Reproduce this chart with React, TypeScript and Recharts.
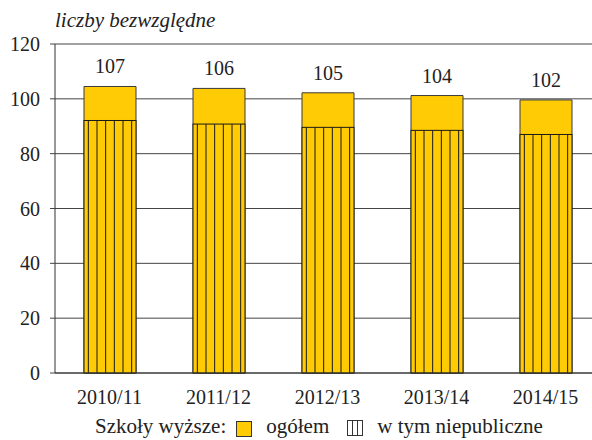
import { BarChart, Bar, XAxis, YAxis, CartesianGrid, LabelList } from 'recharts';

const years = ['2010/11', '2011/12', '2012/13', '2013/14', '2014/15'];
// bar heights as drawn in the source picture
const totalHeights = [104.5, 103.8, 102.2, 101.2, 99.6];
const privateHeights = [92.1, 90.8, 89.6, 88.5, 87.0];
// printed values above the bars
const totalLabels = ['107', '106', '105', '104', '102'];
const yTicks = [0, 20, 40, 60, 80, 100, 120];

const data = years.map((year, i) => ({
  year,
  total: totalHeights[i],
  priv: privateHeights[i],
  label: totalLabels[i],
}));

const YELLOW = '#FFCB05';
const FONT = 'Liberation Serif';

const HatchedBar = (props: any) => {
  const { x, y, width, height } = props;
  if (!height || height <= 0) return null;
  const lines = [];
  for (let i = 0; i < 6; i++) {
    const lx = x + (width * (i + 0.5)) / 6;
    lines.push(<line key={i} x1={lx} x2={lx} y1={y} y2={y + height} stroke="#1a1a1a" strokeWidth={1} />);
  }
  return (
    <g>
      <rect x={x} y={y} width={width} height={height} fill={YELLOW} stroke="#1a1a1a" strokeWidth={1} />
      {lines}
    </g>
  );
};

const ChartLegend = () => (
  <div style={{ position: 'absolute', left: 95, top: 416, display: 'flex', alignItems: 'center', fontFamily: FONT, fontSize: 21, color: '#222', lineHeight: '21px', whiteSpace: 'nowrap' }}>
    <span>Szkoły wyższe:</span>
    <svg width={16} height={16} style={{ marginLeft: 10, marginTop: 4 }}>
      <rect x={0.5} y={0.5} width={15} height={15} fill={YELLOW} stroke="#333" />
    </svg>
    <span style={{ marginLeft: 14 }}>ogółem</span>
    <svg width={16} height={16} style={{ marginLeft: 18, marginTop: 2 }}>
      <rect x={0.5} y={0.5} width={15} height={15} fill="#fff" stroke="#333" />
      <line x1={5.5} x2={5.5} y1={0.5} y2={15.5} stroke="#333" />
      <line x1={10.5} x2={10.5} y1={0.5} y2={15.5} stroke="#333" />
    </svg>
    <span style={{ marginLeft: 14 }}>w tym niepubliczne</span>
  </div>
);

export default function App() {
  return (
    <div style={{ position: 'absolute', left: 0, top: 0, width: 600, height: 440, background: '#fff' }}>
      <div style={{ position: 'absolute', left: 55, top: 10, fontFamily: FONT, fontStyle: 'italic', fontSize: 21, lineHeight: '21px', color: '#222' }}>
        liczby bezwzględne
      </div>
      <BarChart
        width={600}
        height={440}
        data={data}
        margin={{ top: 44, right: 0, bottom: 37, left: 0 }}
        barSize={52}
        barGap={-52}
      >
        <CartesianGrid vertical={false} stroke="#444" strokeWidth={1} />
        <XAxis
          dataKey="year"
          height={30}
          axisLine={{ stroke: '#333' }}
          tickLine={false}
          tickSize={0}
          tickMargin={17}
          tick={{ fontFamily: FONT, fontSize: 20, fill: '#222' }}
        />
        <YAxis
          width={55}
          domain={[0, 120]}
          ticks={yTicks}
          interval={0}
          axisLine={{ stroke: '#333' }}
          tickLine={{ stroke: '#444' }}
          tickSize={5}
          tickMargin={10}
          tick={{ fontFamily: FONT, fontSize: 20, fill: '#222' }}
        />
        <Bar dataKey="total" fill={YELLOW} stroke="#3a3a3a" strokeWidth={1} isAnimationActive={false}>
          <LabelList dataKey="label" position="top" offset={13} style={{ fontFamily: FONT, fontSize: 20, fill: '#222' }} />
        </Bar>
        <Bar dataKey="priv" shape={<HatchedBar />} isAnimationActive={false} />
      </BarChart>
      <ChartLegend />
    </div>
  );
}
